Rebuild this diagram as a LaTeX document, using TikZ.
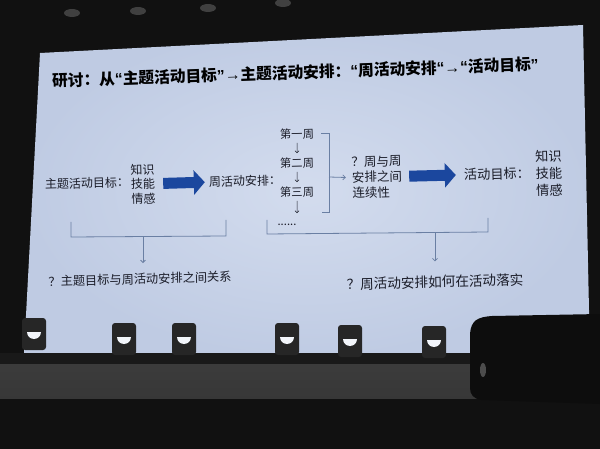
\documentclass[tikz,border=0pt]{standalone}
\usepackage{fontspec}
\setmainfont{Noto Sans CJK SC}
\newfontfamily\latin{Liberation Sans}
\usetikzlibrary{arrows.meta,calc}
\definecolor{ink}{HTML}{1A1C28}
\definecolor{slidein}{HTML}{D3DCEE}
\definecolor{slideout}{HTML}{BFCBE3}
\definecolor{brk}{HTML}{6A7FA3}
\definecolor{blk}{HTML}{1B479E}
\definecolor{bg}{HTML}{111111}
\definecolor{floor}{HTML}{5C5C5C}
\definecolor{lamp}{HTML}{262626}

\begin{document}
\begin{tikzpicture}[x=1pt,y=-1pt,>={Straight Barb[length=2.5pt,width=5pt]},
  lbl/.style={inner sep=0,text=ink,rotate=1.5},
  ttl/.style={inner sep=0,text=black,rotate=2,font=\bfseries\fontsize{15.7}{18}\selectfont},
  brkline/.style={brk,line width=.8pt},
  wk/.style={-{Straight Barb[length=2pt,width=4pt]},ink,line width=.5pt,shorten <=3.5pt,shorten >=4.5pt},
  bigarr/.style={blk,line width=11pt,-{Triangle[length=11pt,width=24pt]}}]
    \newcommand{\sza}{\fontsize{12}{14.5}\selectfont}
    \newcommand{\szb}{\fontsize{11.3}{13}\selectfont}
    \newcommand{\szc}{\fontsize{12.5}{15.5}\selectfont}
    \newcommand{\szd}{\fontsize{13.2}{17}\selectfont}
    \newcommand{\oq}{{\latin “}}
    \newcommand{\cq}{{\latin ”}}
    \newcommand{\tto}{{\latin →}}
    \useasboundingbox(0,0)rectangle(600,449);
    % photo surroundings
    \fill[bg](0,0)rectangle(600,449);
    \foreach \x/\y in {72/13,138/11,208/8,283/3}{\fill[black!75](\x,\y)ellipse[x radius=8,y radius=4];}
    \shade[inner color=slidein,outer color=slideout](40,53)--(583,25)--(590,358)--(24,353)--cycle;
    \shade[top color=floor!120,bottom color=floor!60!black](0,364)rectangle(600,398);
    \fill[black!90](0,353)rectangle(600,364);
    \foreach \x/\y in {34/318,124/323,184/323,287/323,350/325,434/326}{
      \fill[lamp,rounded corners=3pt](\x-12,\y)rectangle(\x+12,\y+32);
      \fill[white!70!slidein](\x-7,\y+14)arc[start angle=180,end angle=0,radius=7]--cycle;
    }
    \fill[black!95](470,334)..controls(471,320)and(478,317)..(492,316)--(600,314)--(600,404)--(482,400)..controls(473,399)and(470,394)..(470,388)--cycle;
    \fill[black!70](483,370)ellipse[x radius=3,y radius=7];
    % slide
    \node[ttl,anchor=west](title)at(52,81){研讨：从\oq 主题活动目标\cq\tto 主题活动安排：\oq 周活动安排\oq\tto\oq 活动目标\cq};
    \node[lbl,font=\sza](goalA)at(87,183){主题活动目标：};
    \node[lbl,font=\sza,align=center](kA)at(143,184){知识\\技能\\情感};
    \node[lbl,font=\sza](plan)at(245,181){周活动安排：};
    \node[lbl,font=\szb](w1)at(297,134){第一周};
    \node[lbl,font=\szb](w2)at(297,163){第二周};
    \node[lbl,font=\szb](w3)at(297,192){第三周};
    \node[lbl,font=\szb](dots)at(287,225){......};
    \draw[wk](w1)--(w2);
    \draw[wk](w2)--(w3);
    \draw[wk,shorten >=11pt](w3)--(w3|-dots.north);
    \node[lbl,font=\szc,align=left](q1)at(377,177){？周与周\\安排之间\\连续性};
    \node[lbl,font=\szd](goalB)at(497,174){活动目标：};
    \node[lbl,font=\szd,align=center](kB)at(549,173){知识\\技能\\情感};
    \draw[bigarr,shorten <=8pt,shorten >=4pt](kA)--(plan);
    \draw[bigarr,shorten <=7pt,shorten >=8pt](q1)--(goalB);
    \coordinate(b1)at(321,133);\coordinate(b2)at(329,133);
    \coordinate(b3)at(329,212);\coordinate(b4)at(322,212);
    \coordinate(bm)at(329,177);
    \draw[brkline](b1)--(b2)--(b3)--(b4);
    \draw[brkline,->,shorten >=6pt](bm)--(q1.west);
    % bottom questions
    \node[lbl,font=\fontsize{12.2}{14}\selectfont](qA)at(140,279){？主题目标与周活动安排之间关系};
    \node[lbl,font=\fontsize{13.6}{16}\selectfont](qB)at(435,282){？周活动安排如何在活动落实};
    \coordinate(l1)at(71,222);\coordinate(l2)at(71,237);
    \coordinate(l3)at(226,236);\coordinate(l4)at(226,220);
    \coordinate(lm)at(143,236.5);
    \draw[brkline](l1)--(l2)--(l3)--(l4);
    \draw[brkline,->,shorten >=10pt](lm)--(lm|-qA.north);
    \coordinate(r1)at(267,220);\coordinate(r2)at(267,234);
    \coordinate(r3)at(488,232);\coordinate(r4)at(488,218);
    \coordinate(rm)at(435,232.5);
    \draw[brkline](r1)--(r2)--(r3)--(r4);
    \draw[brkline,->,shorten >=14pt](rm)--(rm|-qB.north);
\end{tikzpicture}
\end{document}
